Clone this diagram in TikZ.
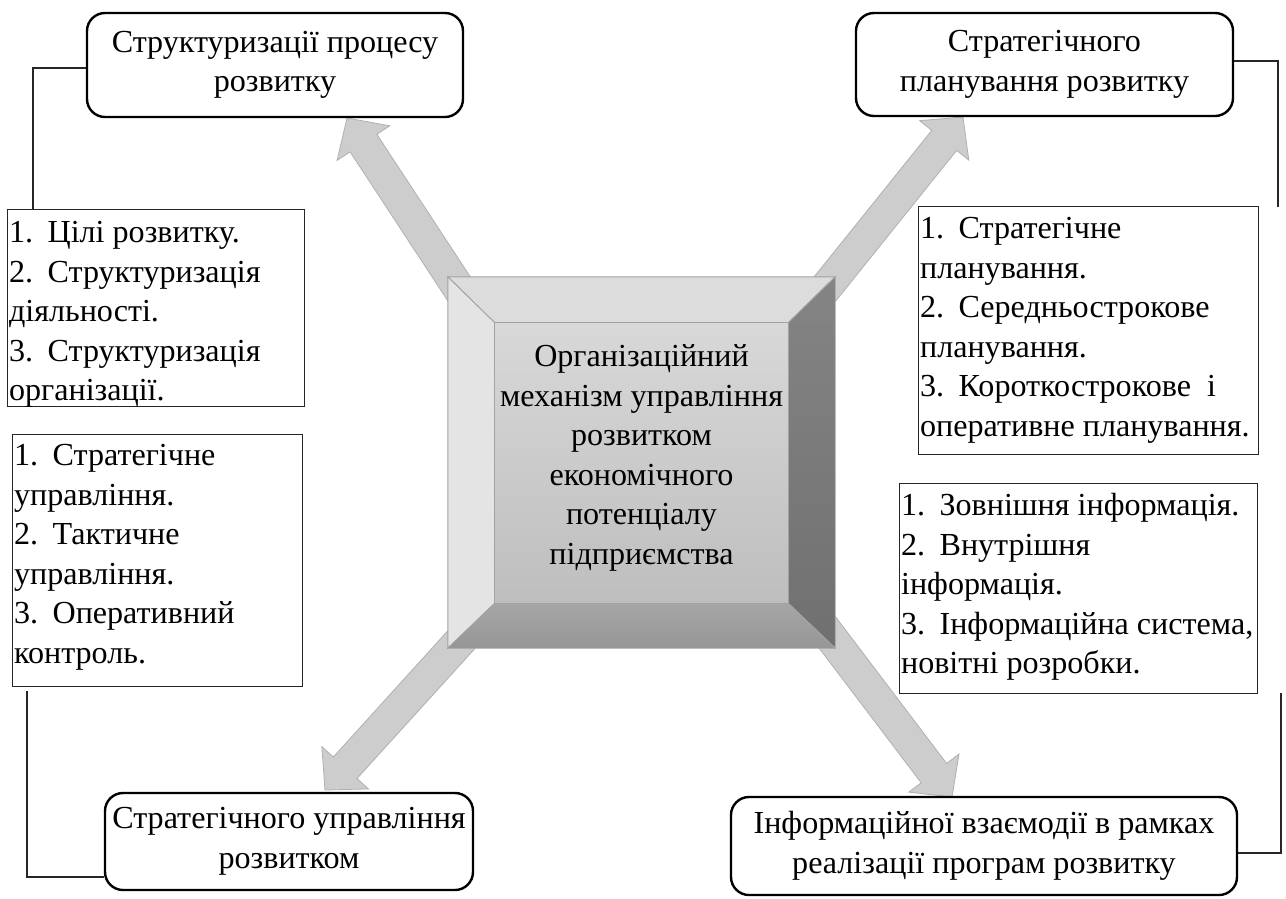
\documentclass[tikz,border=0pt]{standalone}
\usepackage{fontspec}
\setmainfont{Liberation Serif}
\usetikzlibrary{calc}
\definecolor{arrowfill}{HTML}{CDCDCD}
\definecolor{arrowline}{HTML}{B0B0B0}
\definecolor{bevelline}{HTML}{A2A2A2}
\newcommand\blockarr[2]{%
  \coordinate (hb) at ($(#2)!30pt!(#1)$);
  \path[barrow] ($(#1)!16pt!90:(#2)$) -- ($(hb)!16pt!90:(#2)$) -- ($(hb)!31.5pt!90:(#2)$) -- (#2)
    -- ($(hb)!31.5pt!-90:(#2)$) -- ($(hb)!16pt!-90:(#2)$) -- ($(#1)!16pt!-90:(#2)$) -- cycle;}
\newcommand\gap{\hspace{0.45em}}
\begin{document}
\begin{tikzpicture}[x=1pt,y=-1pt,
  every node/.style={font=\fontsize{32.1}{39.5}\selectfont},
  rbox/.style={draw=black, line width=2.4pt, rounded corners=18pt, align=center, inner sep=0pt, fill=white},
  lbox/.style={draw=black!85, line width=1.2pt, inner xsep=1.5pt, inner ysep=0pt, anchor=north west, fill=white},
  conn/.style={draw=black!85, line width=1.2pt},
  barrow/.style={fill=arrowfill, draw=arrowline, line width=0.8pt, line join=miter},
  bevel/.style={draw=bevelline, line width=0.9pt, line join=miter}
]
\useasboundingbox (0,0) rectangle (1286,898);

% centre block (anchor node)
\node[minimum width=387pt, minimum height=371pt, inner sep=0pt] (cbox) at (641.5,462.5) {};

% tips and tails of the block arrows
\coordinate (tltip) at (347,118);
\coordinate (tltail) at (513,371);
\coordinate (trtip) at (963,117);
\coordinate (trtail) at (759,371);
\coordinate (bltip) at (325,790);
\coordinate (bltail) at (520,575);
\coordinate (brtip) at (952,797);
\coordinate (brtail) at (780,570);

\blockarr{tltail}{tltip}
\blockarr{trtail}{trtip}
\blockarr{bltail}{bltip}
\blockarr{brtail}{brtip}

% bevelled centre box
\coordinate (O1) at (cbox.north west);
\coordinate (O2) at (cbox.north east);
\coordinate (O3) at (cbox.south east);
\coordinate (O4) at (cbox.south west);
\coordinate (I1) at ($(O1)+(47,46)$);
\coordinate (I2) at ($(O2)+(-47,46)$);
\coordinate (I3) at ($(O3)+(-47,-45)$);
\coordinate (I4) at ($(O4)+(47,-45)$);
\path[bevel, fill={rgb,255:red,220;green,220;blue,220}] (O1) -- (O2) -- (I2) -- (I1) -- cycle;
\path[bevel, fill={rgb,255:red,228;green,228;blue,228}] (O1) -- (I1) -- (I4) -- (O4) -- cycle;
\path[bevel, top color={rgb,255:red,132;green,132;blue,132}, bottom color={rgb,255:red,112;green,112;blue,112}] (O2) -- (O3) -- (I3) -- (I2) -- cycle;
\path[bevel, top color={rgb,255:red,166;green,166;blue,166}, bottom color={rgb,255:red,150;green,150;blue,150}] (O4) -- (I4) -- (I3) -- (O3) -- cycle;
\path[bevel, top color={rgb,255:red,216;green,216;blue,216}, bottom color={rgb,255:red,190;green,190;blue,190}] (I1) -- (I2) -- (I3) -- (I4) -- cycle;
\node[align=center] (ctext) at (641.5,458) {Організаційний\\механізм управління\\розвитком\\економічного\\потенціалу\\підприємства};

% rounded title boxes
\node[rbox, minimum width=376pt, minimum height=104pt] (tl) at (275,65) {Структуризації процесу\\розвитку};
\node[rbox, minimum width=377pt, minimum height=103pt] (tr) at (1044.5,64.5) {Стратегічного\\планування розвитку};
\node[rbox, minimum width=368pt, minimum height=97pt] (bl) at (289,841.5) {Стратегічного управління\\розвитком};
\node[rbox, minimum width=506pt, minimum height=98pt] (br) at (984,846) {Інформаційної взаємодії в рамках\\реалізації програм розвитку};

% list boxes
\node[lbox] (lb1) at (7,209) {\parbox[c][197pt][t]{294pt}{\raggedright\rule{0pt}{33pt}1.\gap Цілі розвитку.\\2.\gap Структуризація\\діяльності.\\3.\gap Структуризація\\організації.}};
\node[lbox] (lb2) at (12,434) {\parbox[c][252pt][t]{287pt}{\raggedright\rule{0pt}{31pt}1.\gap Стратегічне\\управління.\\2.\gap Тактичне\\управління.\\3.\gap Оперативний\\контроль.}};
\node[lbox] (rb1) at (918,206) {\parbox[c][248pt][t]{337pt}{\raggedright\rule{0pt}{32pt}1.\gap Стратегічне\\планування.\\2.\gap Середньострокове\\планування.\\3.\gap Короткострокове\hspace{0.5em}і\\оперативне~планування.}};
\node[lbox] (rb2) at (899,483) {\parbox[c][210pt][t]{355pt}{\raggedright\rule{0pt}{32pt}1.\gap Зовнішня~інформація.\\2.\gap Внутрішня\\інформація.\\3.\gap Інформаційна~система,\\новітні розробки.}};

% bracket connectors
\coordinate (c1) at ($(lb1.north west)+(26,0)$);
\draw[conn] (tl.west |- 0,68) -| (c1);
\coordinate (trend) at (1278,207);
\draw[conn] (tr.east |- 0,61) -| (trend);
\coordinate (c2) at ($(lb2.south west)+(15,4)$);
\draw[conn] (c2) |- (bl.west |- 0,877);
\coordinate (brend) at (1281,693);
\draw[conn] (br.east |- 0,853) -| (brend);
\end{tikzpicture}
\end{document}
